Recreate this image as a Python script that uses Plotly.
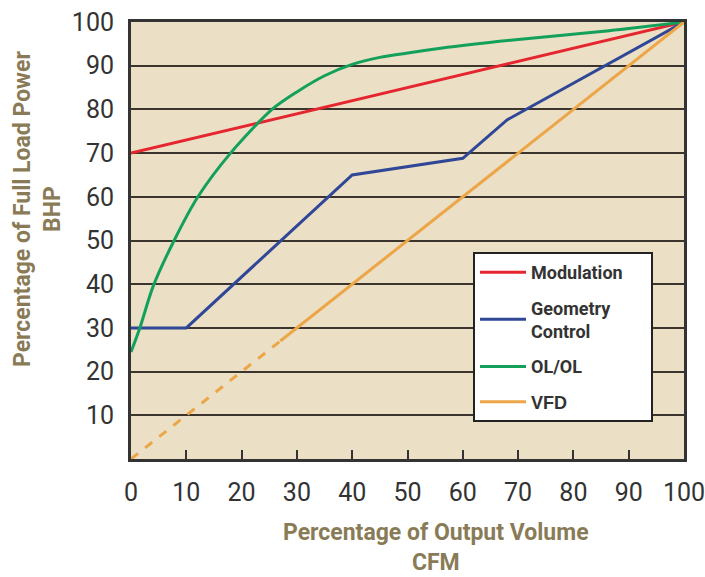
import plotly.graph_objects as go

# ---- data ----
mod_x = [0, 100]
mod_y = [70, 100]

geo_x = [0, 10, 40, 60, 68, 100]
geo_y = [30, 30, 65, 68.8, 77.6, 100]

ol_x = [0, 1.6, 4, 7.8, 12.1, 18, 25.5, 30, 35, 40, 45, 50, 56, 70, 85, 100]
ol_y = [24.5, 30, 39.5, 50, 60, 70, 80, 84, 87.7, 90.3, 91.9, 92.9, 94, 96, 97.8, 100]

vfd_dash_x = [0, 27]
vfd_dash_y = [0, 27]
vfd_x = [27, 100]
vfd_y = [27, 100]

x_ticks = list(range(0, 101, 10))
y_ticks = list(range(10, 101, 10))

RED = "#e5262f"
BLUE = "#2f4796"
GREEN = "#13a05b"
ORANGE = "#eca648"
TITLE_C = "#8a7b57"
TXT = "#333333"
FONT = "Roboto, sans-serif"

fig = go.Figure()
fig.add_trace(go.Scatter(x=mod_x, y=mod_y, mode="lines",
                         name="Modulation" + "&nbsp;" * 5, legendgroup="a",
                         line=dict(color=RED, width=3)))
fig.add_trace(go.Scatter(x=geo_x, y=geo_y, mode="lines", name="Geometry<br>Control", legendgroup="b",
                         line=dict(color=BLUE, width=3)))
fig.add_trace(go.Scatter(x=ol_x, y=ol_y, mode="lines", name="OL/OL", legendgroup="c",
                         line=dict(color=GREEN, width=3, shape="spline", smoothing=0.8)))
fig.add_trace(go.Scatter(x=vfd_dash_x, y=vfd_dash_y, mode="lines", showlegend=False, legendgroup="d",
                         line=dict(color=ORANGE, width=3, dash="dash")))
fig.add_trace(go.Scatter(x=vfd_x, y=vfd_y, mode="lines", legendgroup="d",
                         name="<span style='font-family:Liberation Sans, Arial'>VFD</span>",
                         line=dict(color=ORANGE, width=3)))

fig.update_layout(
    width=705, height=577,
    margin=dict(l=131, r=21, t=22, b=118),
    paper_bgcolor="white",
    plot_bgcolor="#ebdfc5",
    font=dict(family=FONT, color=TXT),
    xaxis=dict(range=[0, 100], tickvals=x_ticks, ticks="inside", ticklen=9,
               tickwidth=2, tickcolor="#333", showgrid=False, zeroline=False,
               showline=True, linewidth=3, linecolor="#333", mirror=True,
               automargin=False, ticklabelstandoff=9, ticklabeloverflow="allow",
               tickfont=dict(size=25, color=TXT, family=FONT), fixedrange=True),
    yaxis=dict(range=[0, 100], tickvals=y_ticks, ticks="", showgrid=True,
               gridcolor="#3b352e", gridwidth=2, zeroline=False,
               showline=True, linewidth=3, linecolor="#333", mirror=True,
               automargin=False, ticklabelstandoff=9, ticklabeloverflow="allow",
               tickfont=dict(size=25, color=TXT, family=FONT),
               fixedrange=True),
    legend=dict(x=(473 - 131) / 553, y=(459 - 252) / 437, xanchor="left", yanchor="top",
                bgcolor="white", bordercolor="#222", borderwidth=2,
                font=dict(size=18, color=TXT, family=FONT, weight="bold"),
                itemwidth=46, tracegroupgap=9, traceorder="grouped"),
    showlegend=True,
)

fig.add_annotation(text="<b>Percentage of Output Volume<br>CFM</b>", xref="paper", yref="paper",
                   x=(436 - 131) / 553, y=(459 - 547) / 437, xanchor="center", yanchor="middle",
                   showarrow=False, font=dict(size=23, color=TITLE_C, family=FONT))
fig.add_annotation(text="<b>Percentage of Full Load Power<br>BHP</b>", xref="paper", yref="paper",
                   x=(38 - 131) / 553, y=(459 - 209) / 437, xanchor="center", yanchor="middle",
                   textangle=-90,
                   showarrow=False, font=dict(size=23, color=TITLE_C, family=FONT))

fig.write_html("out.html")
